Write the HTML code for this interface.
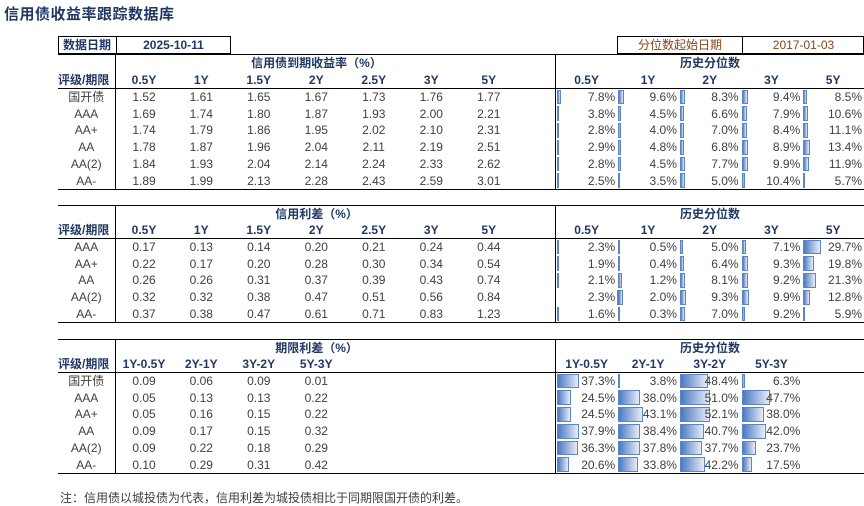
<!DOCTYPE html>
<html><head><meta charset="utf-8"><style>
body{margin:0;width:864px;height:506px;background:#fff;position:relative;overflow:hidden;font-family:"Liberation Sans","Noto Sans CJK SC",sans-serif;}
.ttl{position:absolute;left:4px;top:3px;font-size:15px;font-weight:bold;color:#1f3864;letter-spacing:0.5px}
table{position:absolute;left:58px;border-collapse:collapse;table-layout:fixed;width:806px;font-size:12px;color:#404040}
td{padding:0;text-align:center;white-space:nowrap;overflow:visible;line-height:14px}
.h td{font-weight:bold;color:#1f3864}
tr.top td{border-top:1px solid #000}
tr.bot td{border-bottom:1px solid #000}
td.l{border-right:1px solid #000}
td.s{border-left:1px solid #000}
td.lb{text-align:left;font-weight:bold;color:#1f3864}
td.p{position:relative;text-align:right;padding-right:2px}
td.p i{position:absolute;z-index:-1;left:1px;top:1px;bottom:1px;background:linear-gradient(to right,#4d79c3,#e6ecf7);border:1px solid #5a86c8;box-sizing:border-box;min-width:2px}
.note{position:absolute;left:60px;top:489px;font-size:12px;color:#404040}
.box{position:absolute;top:36px;height:18px;border:1px solid #000;box-sizing:border-box;font-size:12px;line-height:16px}
</style></head><body>
<div class="ttl">信用债收益率跟踪数据库</div>
<div class="box" style="left:58px;width:173px;"><span style="position:absolute;left:4px;font-weight:bold;color:#1f3864">数据日期</span><span style="position:absolute;left:57px;top:-1px;height:18px;border-left:1px solid #000"></span><span style="position:absolute;left:57px;width:115px;text-align:center;font-weight:bold;color:#1f3864">2025-10-11</span></div>
<div class="box" style="left:617px;width:247px;color:#8a4216"><span style="position:absolute;left:0;width:124px;text-align:center">分位数起始日期</span><span style="position:absolute;left:124px;top:-1px;height:18px;border-left:1px solid #000"></span><span style="position:absolute;left:124px;width:123px;text-align:center">2017-01-03</span></div>

<table style="top:54px">
<colgroup><col style="width:57px"><col span="7" style="width:57.5px"><col style="width:38px"><col span="5" style="width:61.7px"></colgroup>
<tr class="h top" style="height:17px"><td class="l"></td><td colspan="7">信用债到期收益率（%）</td><td></td><td class="s" colspan="5">历史分位数</td></tr>
<tr class="h bot" style="height:17px"><td class="lb l">评级/期限</td><td>0.5Y</td><td>1Y</td><td>1.5Y</td><td>2Y</td><td>2.5Y</td><td>3Y</td><td>5Y</td><td></td><td class="s">0.5Y</td><td>1Y</td><td>2Y</td><td>3Y</td><td>5Y</td></tr>
<tr style="height:16.8px"><td class="l">国开债</td><td>1.52</td><td>1.61</td><td>1.65</td><td>1.67</td><td>1.73</td><td>1.76</td><td>1.77</td><td></td><td class="s p"><i style="width:4px"></i>7.8%</td><td class="p"><i style="width:6px"></i>9.6%</td><td class="p"><i style="width:5px"></i>8.3%</td><td class="p"><i style="width:6px"></i>9.4%</td><td class="p"><i style="width:4px"></i>8.5%</td></tr>
<tr style="height:16.8px"><td class="l">AAA</td><td>1.69</td><td>1.74</td><td>1.80</td><td>1.87</td><td>1.93</td><td>2.00</td><td>2.21</td><td></td><td class="s p"><i style="width:2px"></i>3.8%</td><td class="p"><i style="width:3px"></i>4.5%</td><td class="p"><i style="width:4px"></i>6.6%</td><td class="p"><i style="width:5px"></i>7.9%</td><td class="p"><i style="width:5px"></i>10.6%</td></tr>
<tr style="height:16.8px"><td class="l">AA+</td><td>1.74</td><td>1.79</td><td>1.86</td><td>1.95</td><td>2.02</td><td>2.10</td><td>2.31</td><td></td><td class="s p"><i style="width:2px"></i>2.8%</td><td class="p"><i style="width:3px"></i>4.0%</td><td class="p"><i style="width:4px"></i>7.0%</td><td class="p"><i style="width:5px"></i>8.4%</td><td class="p"><i style="width:5px"></i>11.1%</td></tr>
<tr style="height:16.8px"><td class="l">AA</td><td>1.78</td><td>1.87</td><td>1.96</td><td>2.04</td><td>2.11</td><td>2.19</td><td>2.51</td><td></td><td class="s p"><i style="width:2px"></i>2.9%</td><td class="p"><i style="width:3px"></i>4.8%</td><td class="p"><i style="width:4px"></i>6.8%</td><td class="p"><i style="width:6px"></i>8.9%</td><td class="p"><i style="width:7px"></i>13.4%</td></tr>
<tr style="height:16.8px"><td class="l">AA(2)</td><td>1.84</td><td>1.93</td><td>2.04</td><td>2.14</td><td>2.24</td><td>2.33</td><td>2.62</td><td></td><td class="s p"><i style="width:2px"></i>2.8%</td><td class="p"><i style="width:3px"></i>4.5%</td><td class="p"><i style="width:5px"></i>7.7%</td><td class="p"><i style="width:6px"></i>9.9%</td><td class="p"><i style="width:6px"></i>11.9%</td></tr>
<tr class="bot" style="height:16.8px"><td class="l">AA-</td><td>1.89</td><td>1.99</td><td>2.13</td><td>2.28</td><td>2.43</td><td>2.59</td><td>3.01</td><td></td><td class="s p"><i style="width:2px"></i>2.5%</td><td class="p"><i style="width:2px"></i>3.5%</td><td class="p"><i style="width:5px"></i>5.0%</td><td class="p"><i style="width:3px"></i>10.4%</td><td class="p"><i style="width:2px"></i>5.7%</td></tr>
</table>

<table style="top:205px">
<colgroup><col style="width:57px"><col span="7" style="width:57.5px"><col style="width:38px"><col span="5" style="width:61.7px"></colgroup>
<tr class="h top" style="height:17px"><td class="l"></td><td colspan="7">信用利差（%）</td><td></td><td class="s" colspan="5">历史分位数</td></tr>
<tr class="h bot" style="height:16px"><td class="lb l">评级/期限</td><td>0.5Y</td><td>1Y</td><td>1.5Y</td><td>2Y</td><td>2.5Y</td><td>3Y</td><td>5Y</td><td></td><td class="s">0.5Y</td><td>1Y</td><td>2Y</td><td>3Y</td><td>5Y</td></tr>
<tr style="height:16.8px"><td class="l">AAA</td><td>0.17</td><td>0.13</td><td>0.14</td><td>0.20</td><td>0.21</td><td>0.24</td><td>0.44</td><td></td><td class="s p"><i style="width:1px"></i>2.3%</td><td class="p"><i style="width:2px"></i>0.5%</td><td class="p"><i style="width:3px"></i>5.0%</td><td class="p"><i style="width:4px"></i>7.1%</td><td class="p"><i style="width:18px"></i>29.7%</td></tr>
<tr style="height:16.8px"><td class="l">AA+</td><td>0.22</td><td>0.17</td><td>0.20</td><td>0.28</td><td>0.30</td><td>0.34</td><td>0.54</td><td></td><td class="s p"><i style="width:1px"></i>1.9%</td><td class="p"><i style="width:2px"></i>0.4%</td><td class="p"><i style="width:4px"></i>6.4%</td><td class="p"><i style="width:6px"></i>9.3%</td><td class="p"><i style="width:11px"></i>19.8%</td></tr>
<tr style="height:16.8px"><td class="l">AA</td><td>0.26</td><td>0.26</td><td>0.31</td><td>0.37</td><td>0.39</td><td>0.43</td><td>0.74</td><td></td><td class="s p"><i style="width:1px"></i>2.1%</td><td class="p"><i style="width:4px"></i>1.2%</td><td class="p"><i style="width:5px"></i>8.1%</td><td class="p"><i style="width:6px"></i>9.2%</td><td class="p"><i style="width:13px"></i>21.3%</td></tr>
<tr style="height:16.8px"><td class="l">AA(2)</td><td>0.32</td><td>0.32</td><td>0.38</td><td>0.47</td><td>0.51</td><td>0.56</td><td>0.84</td><td></td><td class="s p"><i style="width:1px;left:61px"></i>2.3%</td><td class="p"><i style="width:5px"></i>2.0%</td><td class="p"><i style="width:6px"></i>9.3%</td><td class="p"><i style="width:7px"></i>9.9%</td><td class="p"><i style="width:7px"></i>12.8%</td></tr>
<tr class="bot" style="height:16.8px"><td class="l">AA-</td><td>0.37</td><td>0.38</td><td>0.47</td><td>0.61</td><td>0.71</td><td>0.83</td><td>1.23</td><td></td><td class="s p"><i style="width:1px"></i>1.6%</td><td class="p"><i style="width:2px"></i>0.3%</td><td class="p"><i style="width:5px"></i>7.0%</td><td class="p"><i style="width:3px"></i>9.2%</td><td class="p"><i style="width:2px"></i>5.9%</td></tr>
</table>

<table style="top:339px">
<colgroup><col style="width:57px"><col span="7" style="width:57.5px"><col style="width:38px"><col span="5" style="width:61.7px"></colgroup>
<tr class="h top" style="height:17px"><td class="l"></td><td colspan="7">期限利差（%）</td><td></td><td class="s" colspan="5">历史分位数</td></tr>
<tr class="h bot" style="height:16px"><td class="lb l">评级/期限</td><td>1Y-0.5Y</td><td>2Y-1Y</td><td>3Y-2Y</td><td>5Y-3Y</td><td></td><td></td><td></td><td></td><td class="s">1Y-0.5Y</td><td>2Y-1Y</td><td>3Y-2Y</td><td>5Y-3Y</td><td></td></tr>
<tr style="height:16.8px"><td class="l">国开债</td><td>0.09</td><td>0.06</td><td>0.09</td><td>0.01</td><td></td><td></td><td></td><td></td><td class="s p"><i style="width:22px"></i>37.3%</td><td class="p"><i style="width:2px"></i>3.8%</td><td class="p"><i style="width:28px"></i>48.4%</td><td class="p"><i style="width:3px"></i>6.3%</td><td></td></tr>
<tr style="height:16.8px"><td class="l">AAA</td><td>0.05</td><td>0.13</td><td>0.13</td><td>0.22</td><td></td><td></td><td></td><td></td><td class="s p"><i style="width:14px"></i>24.5%</td><td class="p"><i style="width:22px"></i>38.0%</td><td class="p"><i style="width:30px"></i>51.0%</td><td class="p"><i style="width:28px"></i>47.7%</td><td></td></tr>
<tr style="height:16.8px"><td class="l">AA+</td><td>0.05</td><td>0.16</td><td>0.15</td><td>0.22</td><td></td><td></td><td></td><td></td><td class="s p"><i style="width:14px"></i>24.5%</td><td class="p"><i style="width:25px"></i>43.1%</td><td class="p"><i style="width:30px"></i>52.1%</td><td class="p"><i style="width:22px"></i>38.0%</td><td></td></tr>
<tr style="height:16.8px"><td class="l">AA</td><td>0.09</td><td>0.17</td><td>0.15</td><td>0.32</td><td></td><td></td><td></td><td></td><td class="s p"><i style="width:22px"></i>37.9%</td><td class="p"><i style="width:22px"></i>38.4%</td><td class="p"><i style="width:24px"></i>40.7%</td><td class="p"><i style="width:24px"></i>42.0%</td><td></td></tr>
<tr style="height:16.8px"><td class="l">AA(2)</td><td>0.09</td><td>0.22</td><td>0.18</td><td>0.29</td><td></td><td></td><td></td><td></td><td class="s p"><i style="width:21px"></i>36.3%</td><td class="p"><i style="width:22px"></i>37.8%</td><td class="p"><i style="width:22px"></i>37.7%</td><td class="p"><i style="width:14px"></i>23.7%</td><td></td></tr>
<tr class="bot" style="height:16.8px"><td class="l">AA-</td><td>0.10</td><td>0.29</td><td>0.31</td><td>0.42</td><td></td><td></td><td></td><td></td><td class="s p"><i style="width:12px"></i>20.6%</td><td class="p"><i style="width:20px"></i>33.8%</td><td class="p"><i style="width:25px"></i>42.2%</td><td class="p"><i style="width:10px"></i>17.5%</td><td></td></tr>
</table>

<div class="note">注：信用债以城投债为代表，信用利差为城投债相比于同期限国开债的利差。</div>
</body></html>
